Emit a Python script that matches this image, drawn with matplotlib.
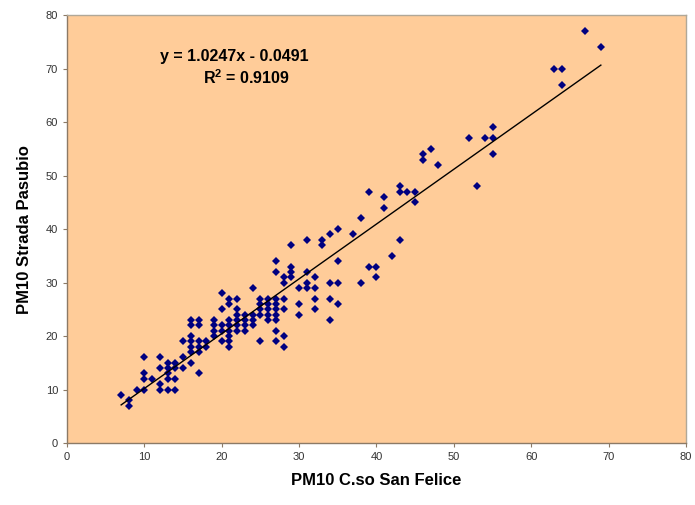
import numpy as np
import matplotlib
matplotlib.use("Agg")
import matplotlib.pyplot as plt

# PM10 C.so San Felice (x) vs PM10 Strada Pasubio (y)
san_felice = [
    7, 8, 8, 9, 10, 10, 10, 10, 11, 12, 12, 12, 12,
    13, 13, 13, 13, 13, 14, 14, 14, 14, 15, 15, 15,
    16, 16, 16, 16, 16, 16, 16, 17, 17, 17, 17, 17, 17, 18, 18,
    19, 19, 19, 19, 20, 20, 20, 20, 20,
    21, 21, 21, 21, 21, 21, 21, 21, 22, 22, 22, 22, 22, 22,
    23, 23, 23, 23, 24, 24, 24, 24, 25, 25, 25, 25, 25,
    26, 26, 26, 26, 26, 27, 27, 27, 27, 27, 27, 27, 27, 27,
    28, 28, 28, 28, 28, 28, 29, 29, 29, 29, 30, 30, 30,
    31, 31, 31, 31, 32, 32, 32, 32, 33, 33, 34, 34, 34, 34,
    35, 35, 35, 35, 37, 38, 38, 39, 39, 40, 40, 41, 41, 42,
    43, 43, 43, 44, 45, 45, 46, 46, 47, 48, 52, 53, 54,
    55, 55, 55, 63, 64, 64, 67, 69,
]
strada_pasubio = [
    9, 8, 7, 10, 10, 16, 13, 12, 12, 16, 14, 11, 10,
    15, 14, 13, 12, 10, 15, 14, 12, 10, 16, 14, 19,
    23, 22, 20, 19, 18, 17, 15, 23, 22, 19, 18, 17, 13, 19, 18,
    23, 22, 21, 20, 28, 25, 22, 21, 19,
    27, 26, 23, 22, 21, 20, 19, 18, 27, 25, 24, 23, 22, 21,
    24, 23, 22, 21, 29, 24, 23, 22, 27, 26, 24, 19, 25,
    27, 26, 25, 24, 23, 34, 32, 27, 26, 25, 24, 23, 21, 19,
    31, 30, 27, 25, 20, 18, 37, 33, 32, 31, 29, 26, 24,
    38, 32, 30, 29, 31, 29, 27, 25, 38, 37, 39, 30, 27, 23,
    40, 34, 30, 26, 39, 42, 30, 47, 33, 33, 31, 46, 44, 35,
    48, 47, 38, 47, 47, 45, 54, 53, 55, 52, 57, 48, 57,
    59, 57, 54, 70, 70, 67, 77, 74,
]

# linear trendline as printed on the chart
slope = 1.0247
intercept = -0.0491
r_squared = 0.9109

x = np.array(san_felice)
y = np.array(strada_pasubio)

fig = plt.figure(figsize=(6.95, 5.05), dpi=100)
ax = fig.add_axes([0.0964, 0.1228, 0.8906, 0.8472])
ax.set_facecolor("#FFCC99")

ax.plot(x, y, linestyle="none", marker="D", markersize=4.2,
        color="#000080", markeredgewidth=0)

xl = np.array([x.min(), x.max()])
ax.plot(xl, slope * xl + intercept, color="black", linewidth=1.0)

ax.text(21.6, 72.3, f"y = {slope}x - {abs(intercept)}", ha="center", va="center",
        fontsize=11.5, fontweight="bold", family="Liberation Sans")
ax.text(23.2, 68.3, f"R$^\\mathregular{{2}}$ = {r_squared}", ha="center", va="center",
        fontsize=11.5, fontweight="bold", family="Liberation Sans")

ax.set_xlim(0, 80)
ax.set_ylim(0, 80)
ax.set_xticks(range(0, 81, 10))
ax.set_yticks(range(0, 81, 10))
ax.tick_params(direction="out", length=3, width=0.8, color="#8c7a66",
               labelsize=8, labelcolor="#333333")
for lbl in ax.get_xticklabels() + ax.get_yticklabels():
    lbl.set_family("Liberation Sans")

for side in ("left", "bottom"):
    ax.spines[side].set_color("#8c7a66")
    ax.spines[side].set_linewidth(1.0)
for side in ("top", "right"):
    ax.spines[side].set_color("#b0a898")
    ax.spines[side].set_linewidth(1.0)

ax.set_xlabel("PM10 C.so San Felice", fontsize=12, fontweight="bold",
              family="Liberation Sans", labelpad=8)
ax.set_ylabel("PM10 Strada Pasubio", fontsize=12, fontweight="bold",
              family="Liberation Sans", labelpad=10)

fig.savefig("out.png", dpi=100)
plt.close(fig)
